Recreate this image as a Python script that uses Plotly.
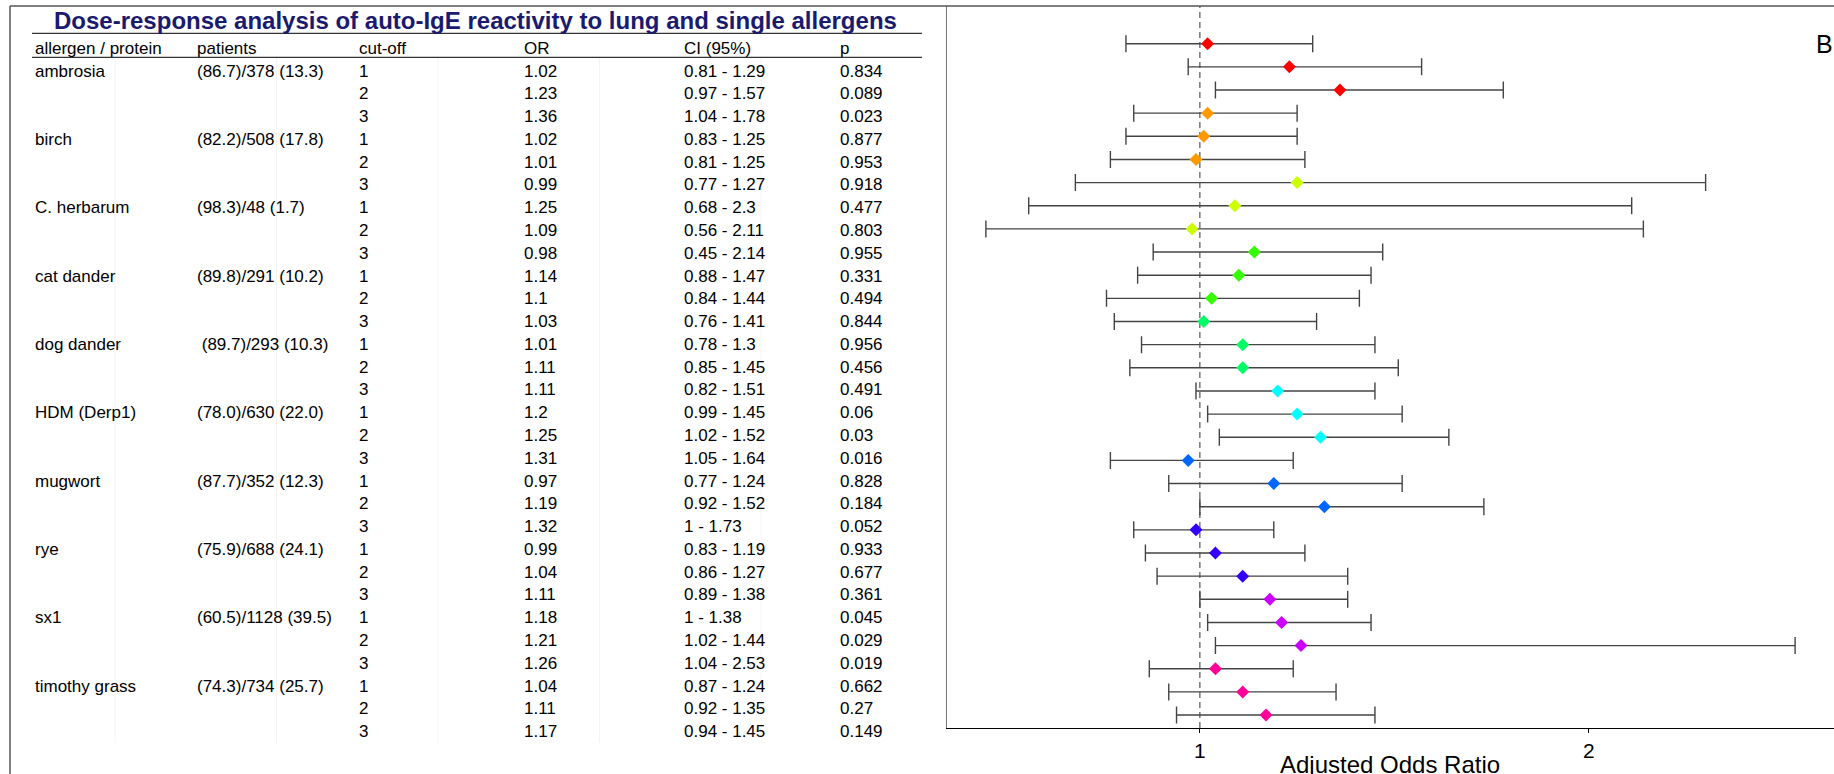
import plotly.graph_objects as go

# ---- data -------------------------------------------------------------
allergens = ["ambrosia", "birch", "C. herbarum", "cat dander", "dog dander",
             "HDM (Derp1)", "mugwort", "rye", "sx1", "timothy grass"]
patients = ["(86.7)/378 (13.3)", "(82.2)/508 (17.8)", "(98.3)/48 (1.7)",
            "(89.8)/291 (10.2)", "\u00a0(89.7)/293 (10.3)", "(78.0)/630 (22.0)",
            "(87.7)/352 (12.3)", "(75.9)/688 (24.1)", "(60.5)/1128 (39.5)",
            "(74.3)/734 (25.7)"]
cutoffs = [1, 2, 3]

odds_ratio = [1.02, 1.23, 1.36, 1.02, 1.01, 0.99, 1.25, 1.09, 0.98,
              1.14, 1.10, 1.03, 1.01, 1.11, 1.11, 1.20, 1.25, 1.31,
              0.97, 1.19, 1.32, 0.99, 1.04, 1.11, 1.18, 1.21, 1.26,
              1.04, 1.11, 1.17]
ci_low = [0.81, 0.97, 1.04, 0.83, 0.81, 0.77, 0.68, 0.56, 0.45,
          0.88, 0.84, 0.76, 0.78, 0.85, 0.82, 0.99, 1.02, 1.05,
          0.77, 0.92, 1.00, 0.83, 0.86, 0.89, 1.00, 1.02, 1.04,
          0.87, 0.92, 0.94]
ci_high = [1.29, 1.57, 1.78, 1.25, 1.25, 1.27, 2.30, 2.11, 2.14,
           1.47, 1.44, 1.41, 1.30, 1.45, 1.51, 1.45, 1.52, 1.64,
           1.24, 1.52, 1.73, 1.19, 1.27, 1.38, 1.38, 1.44, 2.53,
           1.24, 1.35, 1.45]
p_values = [0.834, 0.089, 0.023, 0.877, 0.953, 0.918, 0.477, 0.803, 0.955,
            0.331, 0.494, 0.844, 0.956, 0.456, 0.491, 0.06, 0.03, 0.016,
            0.828, 0.184, 0.052, 0.933, 0.677, 0.361, 0.045, 0.029, 0.019,
            0.662, 0.27, 0.149]

header = ["allergen / protein", "patients", "cut-off", "OR", "CI (95%)", "p"]
title_text = "Dose-response analysis of auto-IgE reactivity to lung and single allergens"
rainbow = ["#FF0000", "#FF9900", "#CCFF00", "#33FF00", "#00FF66",
           "#00FFFF", "#0066FF", "#3300FF", "#CC00FF", "#FF0099"]

# ---- layout helpers -----------------------------------------------------
W, H = 1834, 774
FONT = "Liberation Sans, Arial, sans-serif"


def px_x(v):
    return v / W


def px_y(v):
    return 1 - v / H


n_rows = len(odds_ratio)
row_index = list(range(n_rows))
group_of_row = [i // len(cutoffs) for i in row_index]
point_colors = [rainbow[g] for g in group_of_row]

fig = go.Figure()

# forest plot: odds ratios with 95% CI
fig.add_trace(go.Scatter(
    x=odds_ratio,
    y=row_index,
    mode="markers",
    marker=dict(symbol="diamond", size=10, color=point_colors, line=dict(width=0)),
    error_x=dict(
        type="data", symmetric=False,
        array=[h - o for h, o in zip(ci_high, odds_ratio)],
        arrayminus=[o - l for o, l in zip(odds_ratio, ci_low)],
        color="#444444", thickness=1.4, width=8.5,
    ),
    showlegend=False,
    hoverinfo="skip",
))

plot_top, plot_bottom = 6, 728
first_row_px, row_step_px = 43.7, 23.15
y_top = (plot_top - first_row_px) / row_step_px
y_bottom = (plot_bottom - first_row_px) / row_step_px

fig.update_layout(
    width=W, height=H,
    margin=dict(l=0, r=0, t=0, b=0),
    paper_bgcolor="white", plot_bgcolor="white",
    font=dict(family=FONT, color="black"),
    xaxis=dict(
        domain=[px_x(947), 1.0], range=[0.35, 2.63],
        tickmode="array", tickvals=[1, 2], ticktext=["1", "2"],
        ticks="outside", ticklen=4, tickwidth=1, tickcolor="black",
        tickfont=dict(size=21, family=FONT, color="black"),
        showline=True, linecolor="black", linewidth=1.3,
        showgrid=False, zeroline=False,
    ),
    yaxis=dict(
        domain=[px_y(plot_bottom), px_y(plot_top)],
        range=[y_bottom, y_top],
        showticklabels=False, ticks="", showgrid=False, zeroline=False,
        showline=True, linecolor="#777777", linewidth=1.3,
    ),
)

shapes = [
    # reference line at OR = 1
    dict(type="line", xref="x", yref="paper", x0=1, x1=1,
         y0=px_y(plot_bottom), y1=px_y(plot_top),
         line=dict(color="#555555", width=1.2, dash="6px,4px"), layer="below"),
    # outer frame
    dict(type="line", xref="paper", yref="paper", x0=px_x(10), x1=1,
         y0=px_y(6), y1=px_y(6), line=dict(color="#555555", width=1.5)),
    dict(type="line", xref="paper", yref="paper", x0=px_x(10), x1=px_x(10),
         y0=0, y1=px_y(6), line=dict(color="#555555", width=1.5)),
    # table rules
    dict(type="line", xref="paper", yref="paper", x0=px_x(32), x1=px_x(922),
         y0=px_y(33.3), y1=px_y(33.3), line=dict(color="#333333", width=1.2)),
    dict(type="line", xref="paper", yref="paper", x0=px_x(32), x1=px_x(922),
         y0=px_y(57.3), y1=px_y(57.3), line=dict(color="#333333", width=1.2)),
]
# faint column separators of the table
for sx in [115, 276.5, 438, 599.5, 761]:
    shapes.append(dict(type="line", xref="paper", yref="paper",
                       x0=px_x(sx), x1=px_x(sx), y0=px_y(743), y1=px_y(58),
                       line=dict(color="#f4f4f4", width=1), layer="below"))
fig.update_layout(shapes=shapes)

# ---- table text ---------------------------------------------------------
col_x = [33, 195, 357, 521.5, 681.5, 838]
table_first_px, table_step_px = 71, 22.78
annotations = []


def cell(text, col, row, size=17):
    annotations.append(dict(
        text=text, xref="paper", yref="paper",
        x=px_x(col_x[col]), y=px_y(table_first_px + table_step_px * row),
        xanchor="left", yanchor="middle", showarrow=False,
        font=dict(family=FONT, size=size, color="black"),
    ))


for c, h in enumerate(header):
    cell(h, c, -1)

for i in row_index:
    g = group_of_row[i]
    k = i % len(cutoffs)
    if k == 0:
        cell(allergens[g], 0, i)
        cell(patients[g], 1, i)
    cell(str(cutoffs[k]), 2, i)
    cell(f"{odds_ratio[i]:g}", 3, i)
    cell(f"{ci_low[i]:g} - {ci_high[i]:g}", 4, i)
    cell(f"{p_values[i]:g}", 5, i)

# chart title
annotations.append(dict(
    text=f"<b>{title_text}</b>", xref="paper", yref="paper",
    x=px_x(475), y=px_y(20), xanchor="center", yanchor="middle",
    showarrow=False, font=dict(family=FONT, size=24, color="#1a1a6e"),
))
# panel letter
annotations.append(dict(
    text="B", xref="paper", yref="paper", x=px_x(1824), y=px_y(44),
    xanchor="center", yanchor="middle", showarrow=False,
    font=dict(family=FONT, size=25, color="black"),
))
# x axis title
annotations.append(dict(
    text="Adjusted Odds Ratio", xref="paper", yref="paper",
    x=px_x(1390), y=px_y(764), xanchor="center", yanchor="middle",
    showarrow=False, font=dict(family=FONT, size=24, color="black"),
))
fig.update_layout(annotations=annotations)

fig.write_html("out.html")
